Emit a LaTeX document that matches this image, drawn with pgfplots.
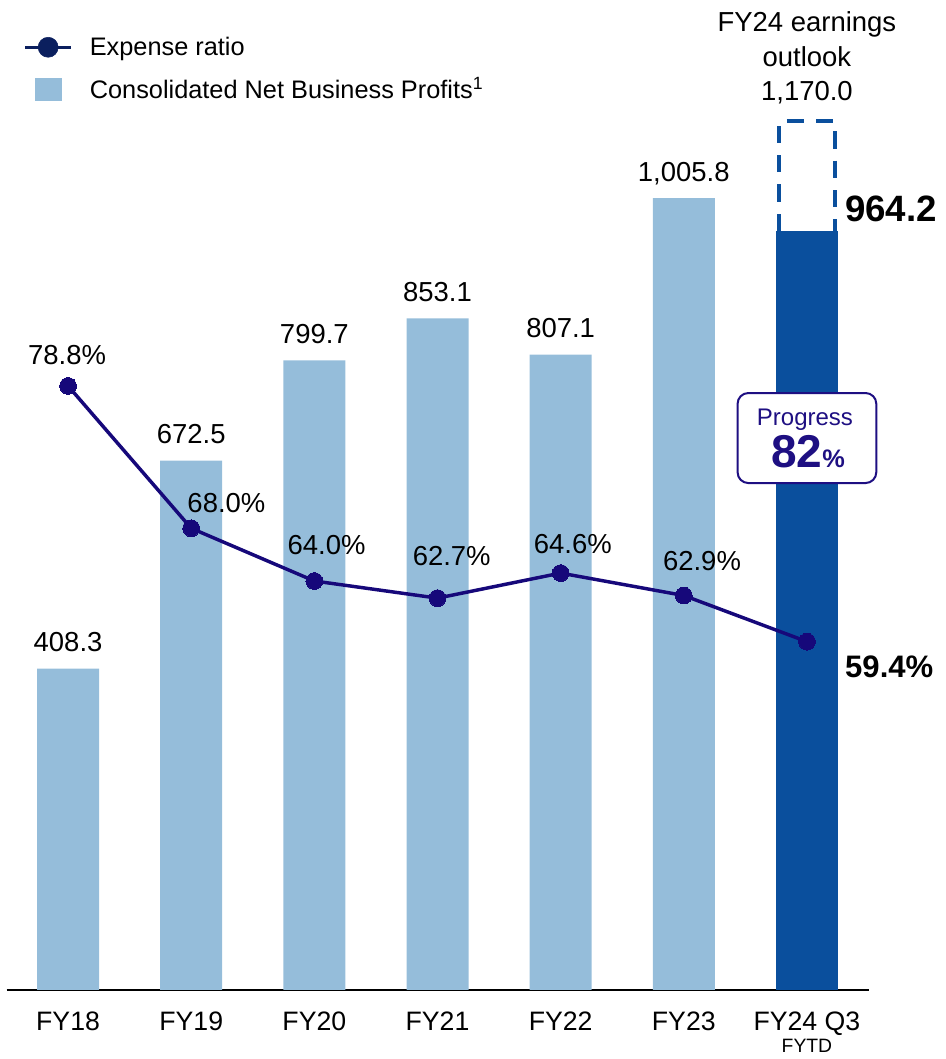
\documentclass[border=0pt]{standalone}
\usepackage{pgfplots}
\usepackage{pgfplotstable}
\pgfplotsset{compat=1.18}
\usepackage{fontspec}
\setmainfont{Liberation Sans}
\definecolor{barlight}{HTML}{95BDDA}
\definecolor{bardark}{HTML}{0A4F9D}
\definecolor{linecol}{HTML}{16087A}
\definecolor{legmark}{HTML}{0B1F5E}
\definecolor{boxcol}{HTML}{1E0F82}

\pgfplotstableread{
x y lab
0 408.3 408.3
1 672.5 672.5
2 799.7 799.7
3 853.1 853.1
4 807.1 807.1
5 1005.8 1,005.8
}\bars

\pgfplotstableread{
x r
0 78.8
1 68.0
2 64.0
3 62.7
4 64.6
5 62.9
6 59.4
}\ratio

\newcommand{\lab}{\fontsize{20.6}{24}\selectfont}

\begin{document}
\begin{tikzpicture}
\path (-4.875pt,-51.75pt) rectangle (703.875pt,742.5pt);
\begin{axis}[
  at={(0,0)}, anchor=south west,
  scale only axis, width=646.5pt, height=697.5pt,
  xmin=-0.5, xmax=6.5, ymin=0, ymax=1181.3,
  axis x line*=bottom, axis y line=none,
  x axis line style={-, line width=1.5pt, black},
  xtick={0,1,2,3,4,5,6},
  xticklabels={FY18,FY19,FY20,FY21,FY22,FY23,{FY24 Q3\\[-7pt]{\fontsize{14.5}{15}\selectfont FYTD}}},
  xticklabel style={font=\fontsize{20}{24}\selectfont, align=center, anchor=north, inner sep=0pt, yshift=-16pt},
  major tick length=0pt,
  clip=false,
]
\addplot[ybar, bar width=46.5pt, bar shift=0pt, fill=barlight, draw=none,
  point meta=explicit symbolic, nodes near coords,
  nodes near coords style={anchor=base, yshift=12.75pt, inner sep=0pt, font=\lab, text=black}]
  table[x=x, y=y, meta=lab] {\bars};
\addplot[ybar, bar width=46.5pt, bar shift=0pt, fill=bardark, draw=none] coordinates {(6,964.2)};
\addplot[bardark, line width=3pt, dash pattern=on 13pt off 9pt, no marks]
  coordinates {(5.777,964.2) (5.777,1104) (6.227,1104) (6.227,964.2)};
\node[anchor=base, inner sep=0pt, font=\lab] at (axis cs:6,1218) {FY24 earnings};
\node[anchor=base, inner sep=0pt, font=\lab] at (axis cs:6,1173.6) {outlook};
\node[anchor=base, inner sep=0pt, font=\lab] at (axis cs:6,1130.4) {1,170.0};
\node[anchor=base west, inner sep=0pt, font=\bfseries\fontsize{27.5}{30}\selectfont, xshift=28.5pt, yshift=6.75pt] at (axis cs:6,964.2) {964.2};
\node[draw=boxcol, line width=1.5pt, fill=white, rounded corners=8pt, minimum width=104pt, minimum height=67.5pt, inner sep=0pt] at (axis cs:6,701.1) {};
\node[anchor=base, inner sep=0pt, text=boxcol, font=\fontsize{18}{20}\selectfont, xshift=-1.5pt] at (axis cs:6,717.6) {Progress};
\node[anchor=base, inner sep=0pt, text=boxcol, xshift=0.75pt] at (axis cs:6,664.3) {{\bfseries\fontsize{34.5}{36}\selectfont 82}{\bfseries\fontsize{19}{20}\selectfont\%}};
\end{axis}

\begin{axis}[
  at={(0,0)}, anchor=south west,
  scale only axis, width=646.5pt, height=697.5pt,
  xmin=-0.5, xmax=6.5, ymin=32.97, ymax=103.53,
  hide axis, clip=false,
  legend style={draw=none, fill=none, inner sep=0pt, outer sep=0pt,
    at={(axis description cs:0.0201,1.0247)}, anchor=north west,
    font=\fontsize{19}{22}\selectfont, row sep=15pt, column sep=13pt,
    nodes={inner sep=0pt}},
  legend cell align=left,
]
\addplot[linecol, line width=2.6pt, mark=*, mark size=6.3pt,
  mark options={fill=linecol, draw=linecol, line width=0pt}, forget plot]
  table[x=x, y=r] {\ratio};
\addlegendimage{legend image code/.code={\draw[legmark, line width=2.5pt] (0pt,0pt) -- (34pt,0pt); \fill[legmark] (17pt,0pt) circle (7.5pt);}}
\addlegendentry{Expense ratio}
\addlegendimage{legend image code/.code={\fill[barlight] (7.5pt,-8.25pt) rectangle (26.5pt,8.25pt);}}
\addlegendentry{Consolidated Net Business Profits\textsuperscript{1}}

\node[anchor=base, inner sep=0pt, font=\lab, xshift=-0.75pt, yshift=15.75pt] at (axis cs:0,78.8) {78.8\%};
\node[anchor=base west, inner sep=0pt, font=\lab, xshift=-3pt, yshift=12pt] at (axis cs:1,68.0) {68.0\%};
\node[anchor=base west, inner sep=0pt, font=\lab, xshift=-20.25pt, yshift=20.25pt] at (axis cs:2,64.0) {64.0\%};
\node[anchor=base west, inner sep=0pt, font=\lab, xshift=-18.75pt, yshift=24.75pt] at (axis cs:3,62.7) {62.7\%};
\node[anchor=base west, inner sep=0pt, font=\lab, xshift=-20.25pt, yshift=15pt] at (axis cs:4,64.6) {64.6\%};
\node[anchor=base west, inner sep=0pt, font=\lab, xshift=-15.75pt, yshift=18.75pt] at (axis cs:5,62.9) {62.9\%};
\node[anchor=base west, inner sep=0pt, font=\bfseries\fontsize{23.3}{26}\selectfont, xshift=28.5pt, yshift=-27pt] at (axis cs:6,59.4) {59.4\%};
\end{axis}
\end{tikzpicture}
\end{document}
